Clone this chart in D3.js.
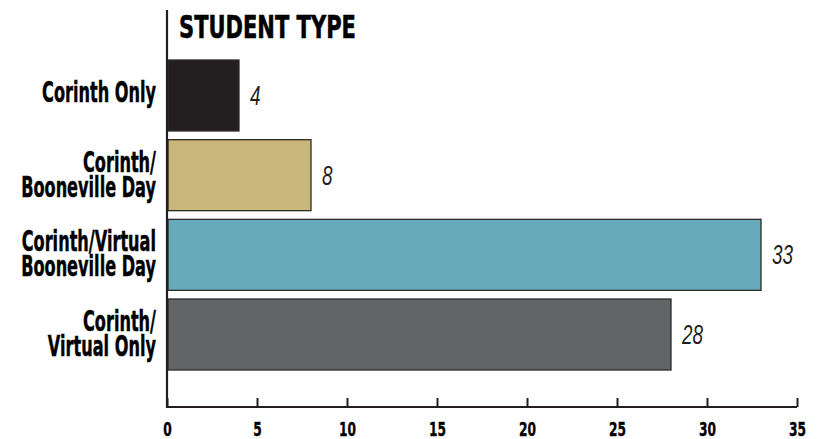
<!DOCTYPE html>
<html><head><meta charset="utf-8">
<script src="https://cdn.jsdelivr.net/npm/d3@7/dist/d3.min.js"></script>
<style>
html,body{margin:0;padding:0;background:#fff;}
svg{display:block;}
.heavy{font-family:"DejaVu Sans",sans-serif;font-weight:bold;}
.thin{font-family:"Liberation Sans",Arial,sans-serif;font-style:italic;font-weight:normal;}
</style></head>
<body>
<svg id="chart" width="817" height="439"></svg>
<script>
const title = "STUDENT TYPE";
const categories = [["Corinth Only"], ["Corinth/", "Booneville Day"], ["Corinth/Virtual", "Booneville Day"], ["Corinth/", "Virtual Only"]];
const values = [4, 8, 33, 28];
const colors = ["#231f20", "#c9b679", "#67abbb", "#636466"];
const tickValues = [0, 5, 10, 15, 20, 25, 30, 35];

const svg = d3.select("#chart");
const x = d3.scaleLinear().domain([0, 35]).range([167, 797]);
const y = d3.scaleBand().domain(d3.range(categories.length)).range([60, 370]).paddingInner(0.109).paddingOuter(0);
const axisY = 407;

function measure(str, cls, size) {
  const t = svg.append("text").attr("class", cls).attr("font-size", size).text(str);
  const w = t.node().getComputedTextLength();
  t.remove();
  return w;
}
const labSize = 27.5, titleSize = 32, tickSize = 19.5, valSize = 27;
const fLab = 114 / measure("Corinth Only", "heavy", labSize);
const fTitle = 177 / measure(title, "heavy", titleSize);
const fTick = 17 / measure("35", "heavy", tickSize);
const fVal = 21 / measure("33", "thin", valSize);

// bars
svg.append("g").selectAll("rect").data(values).join("rect")
  .attr("x", x(0) + 1)
  .attr("y", (d, i) => y(i))
  .attr("width", d => x(d) - x(0) - 1)
  .attr("height", y.bandwidth())
  .attr("fill", (d, i) => colors[i])
  .attr("stroke", "#2b2b2b")
  .attr("stroke-width", 1.3);

// value labels
svg.append("g").selectAll("text").data(values).join("text")
  .attr("class", "thin")
  .attr("font-size", valSize)
  .attr("fill", "#231f20")
  .attr("transform", (d, i) => `translate(${x(d) + 11},${y(i) + y.bandwidth() / 2 + 9.5}) scale(${fVal},1)`)
  .text(d => d);

// category labels
const lab = svg.append("g").selectAll("text").data(categories).join("text")
  .attr("class", "heavy")
  .attr("text-anchor", "end")
  .attr("font-size", labSize)
  .attr("fill", "#000")
  .attr("stroke", "#000").attr("stroke-width", 0.5)
  .attr("transform", `translate(156,0) scale(${fLab},1)`);
lab.each(function(lines, i) {
  const c = y(i) + y.bandwidth() / 2;
  const t = d3.select(this);
  const base = lines.length === 1 ? c + 7 : c - 3.5;
  lines.forEach((ln, k) => {
    t.append("tspan").attr("x", 0).attr("y", base + k * 25).text(ln);
  });
});

// x axis
const xAxis = d3.axisBottom(x).tickValues(tickValues).tickSize(0).tickPadding(0).tickFormat(d3.format("d"));
const ax = svg.append("g").attr("transform", `translate(0,${axisY})`).call(xAxis);
ax.select(".domain").remove();
ax.selectAll(".tick line").remove();
ax.selectAll(".tick").append("line").attr("y1", -9).attr("y2", 0).attr("stroke", "#231f20").attr("stroke-width", 2);
ax.selectAll(".tick text").attr("class", "heavy").attr("y", null).attr("dy", null)
  .attr("font-size", tickSize).attr("fill", "#000").attr("font-family", null)
  .attr("stroke", "#000").attr("stroke-width", 0.4)
  .attr("transform", `translate(0,29) scale(${fTick},1)`);
ax.append("line").attr("x1", x(0)).attr("x2", x(35)).attr("y1", 0).attr("y2", 0).attr("stroke", "#231f20").attr("stroke-width", 2.2);

// vertical axis line
svg.append("line").attr("x1", x(0)).attr("x2", x(0)).attr("y1", 10).attr("y2", axisY + 1)
  .attr("stroke", "#231f20").attr("stroke-width", 2.2);

// title
svg.append("text").attr("class", "heavy")
  .attr("font-size", titleSize).attr("fill", "#000")
  .attr("stroke", "#000").attr("stroke-width", 0.6)
  .attr("transform", `translate(179,38) scale(${fTitle},1)`)
  .text(title);
</script>
</body></html>
